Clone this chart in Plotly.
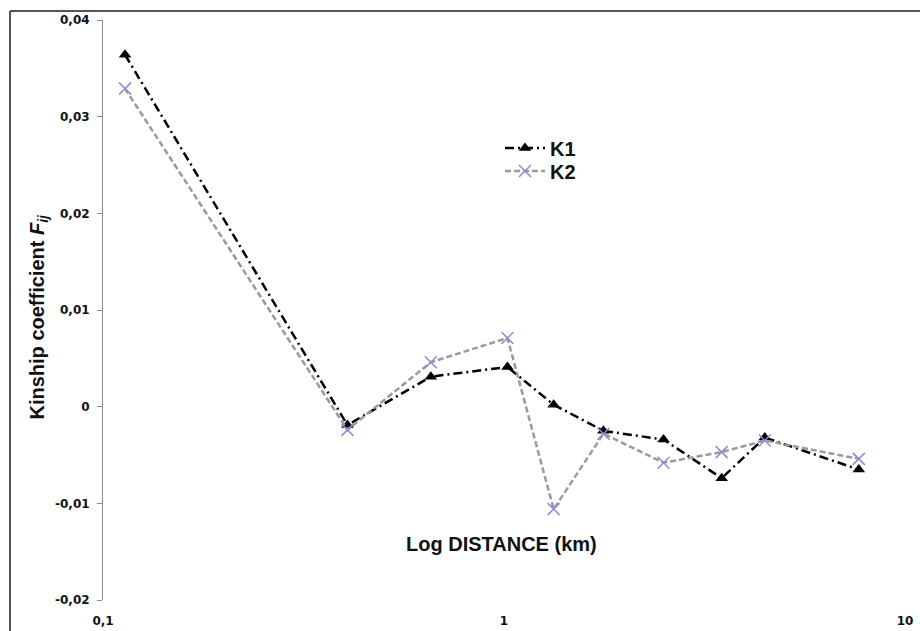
import plotly.graph_objects as go

distance_km = [0.1135, 0.407, 0.657, 1.02, 1.33, 1.77, 2.50, 3.49, 4.47, 7.67]
k1 = [0.0364, -0.0019, 0.0031, 0.0041, 0.0002, -0.0025, -0.0034, -0.0074, -0.0032, -0.0065]
k2 = [0.0329, -0.0024, 0.0046, 0.0071, -0.0106, -0.0028, -0.0058, -0.0047, -0.0035, -0.0054]

y_tickvals = [-0.02, -0.01, 0, 0.01, 0.02, 0.03, 0.04]
y_ticktext = ["-0,02", "-0,01", "0", "0,01", "0,02", "0,03", "0,04"]
x_tickvals = [0.1, 1, 10]
x_ticktext = ["0,1", "1", "10"]

L, R, T, B = 103, 15, 20, 31
W, H = 920, 631
pw, ph = W - L - R, H - T - B

fig = go.Figure()
fig.add_trace(go.Scatter(
    x=distance_km, y=k1, name="K1", mode="lines+markers", legend="legend",
    line=dict(color="black", width=2.5, dash="9px,4px,2px,4px"),
    marker=dict(symbol="triangle-up", size=11, color="black"),
))
fig.add_trace(go.Scatter(
    x=distance_km, y=k2, name="K2", mode="lines+markers", legend="legend2",
    line=dict(color="#9a9a9a", width=2.5, dash="6px,3px"),
    marker=dict(symbol="x-thin-open", size=12, color="#9a86d6",
                line=dict(color="#9a86d6", width=1.5)),
))

tickfont = dict(family="DejaVu Sans", size=12, color="#111", weight="bold")
titlefont = dict(family="Liberation Sans", size=20, color="#111", weight="bold")

def legend_at(yc):
    return dict(
        x=(500 - L) / pw, y=(H - B - yc) / ph, xanchor="left", yanchor="middle",
        font=titlefont, bgcolor="rgba(0,0,0,0)", itemwidth=40, tracegroupgap=0,
    )

fig.update_layout(
    width=W, height=H,
    margin=dict(l=L, r=R, t=T, b=B, autoexpand=False),
    plot_bgcolor="white", paper_bgcolor="white",
    showlegend=True,
    legend=legend_at(148),
    legend2=legend_at(171),
    xaxis=dict(
        type="log", range=[-1, 1], tickvals=x_tickvals, ticktext=x_ticktext,
        showgrid=False, zeroline=False, showline=False, automargin=False,
        ticks="", ticklabelstandoff=12, tickfont=tickfont,
    ),
    xaxis2=dict(
        type="log", range=[-1, 1], overlaying="x", anchor="free", position=1/3,
        side="bottom", showgrid=False, zeroline=False, showline=True, automargin=False,
        linecolor="#8c8c8c", linewidth=1, ticks="outside", ticklen=5,
        tickcolor="#8c8c8c", tickvals=x_tickvals, showticklabels=False,
    ),
    yaxis=dict(
        range=[-0.02, 0.04], tickvals=y_tickvals, ticktext=y_ticktext, automargin=False,
        showgrid=False, zeroline=False, showline=True, linecolor="#8c8c8c",
        linewidth=1, ticks="outside", ticklen=5, tickcolor="#8c8c8c",
        tickfont=tickfont, ticklabelstandoff=5,
    ),
    annotations=[
        dict(text="Log DISTANCE (km)", xref="paper", yref="paper",
             x=(501 - L) / pw, y=(H - B - 557) / ph, showarrow=False, font=titlefont),
        dict(text="Kinship coefficient <i>F<sub>ij</sub></i>", xref="paper", yref="paper",
             x=(23 - L) / pw, y=(H - B - 317) / ph, showarrow=False, textangle=-90,
             font=titlefont),
    ],
    shapes=[
        dict(type="line", xref="paper", yref="paper",
             x0=(10 - L) / pw, x1=(10 - L) / pw, y0=(H - B - 11) / ph, y1=(H - B - 640) / ph,
             line=dict(color="#555", width=2)),
        dict(type="line", xref="paper", yref="paper",
             x0=(10 - L) / pw, x1=(930 - L) / pw, y0=(H - B - 11) / ph, y1=(H - B - 11) / ph,
             line=dict(color="#555", width=2)),
    ],
)

fig.write_html("out.html")
